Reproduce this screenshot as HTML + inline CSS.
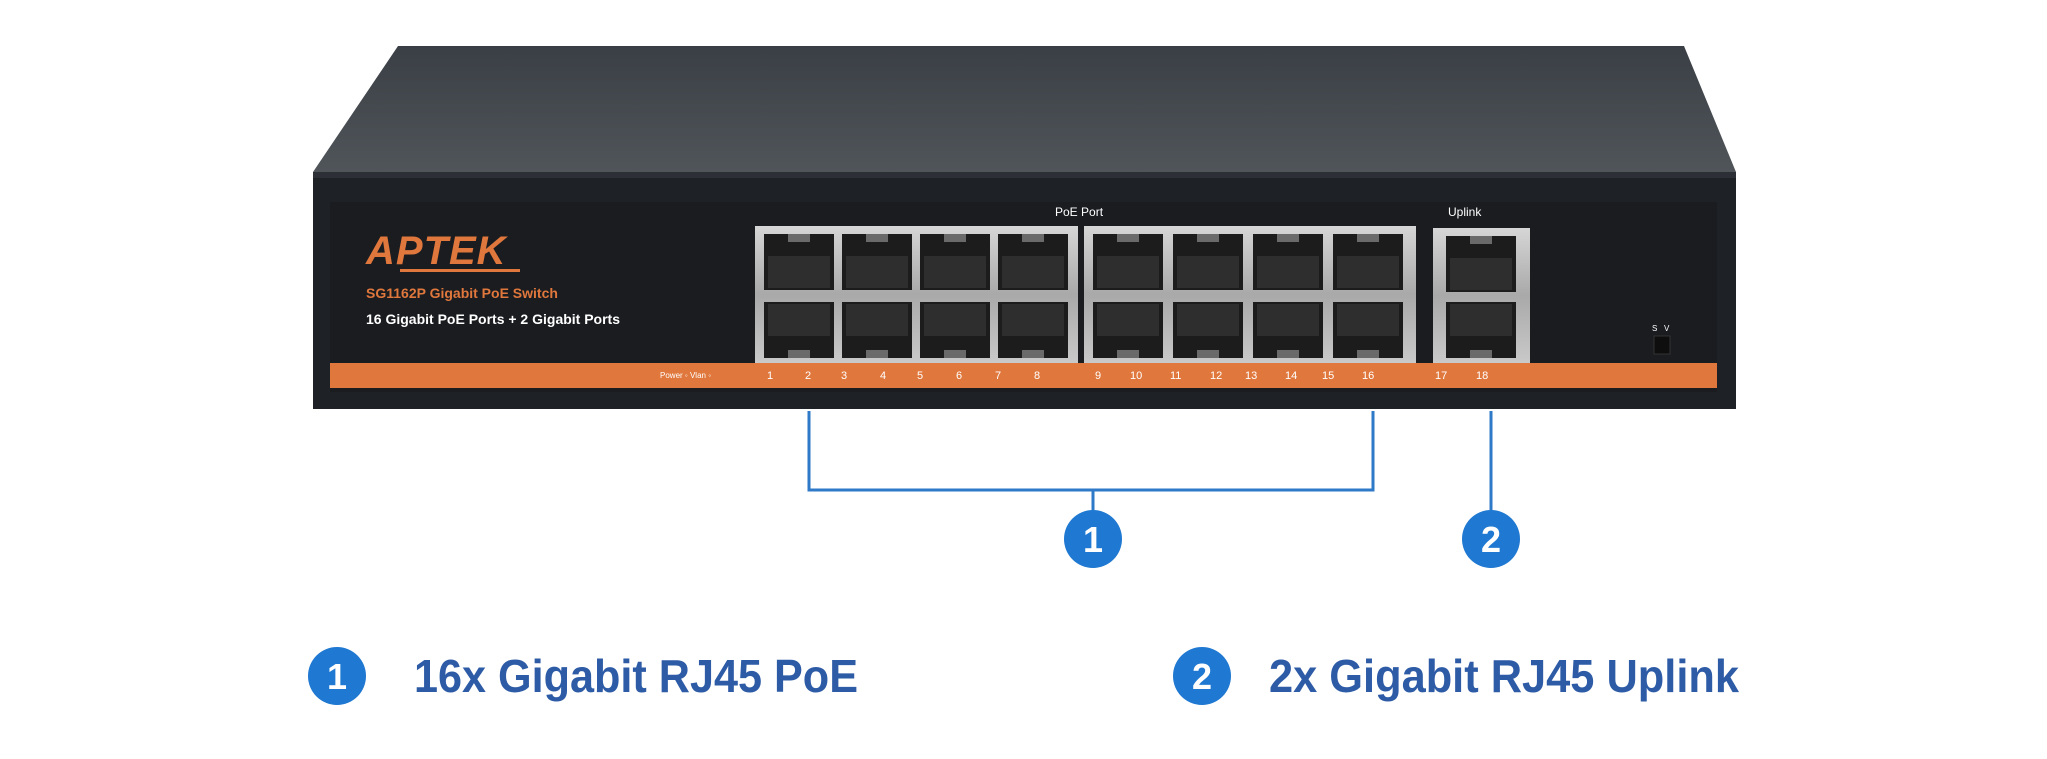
<!DOCTYPE html>
<html><head><meta charset="utf-8"><style>
html,body{margin:0;padding:0;background:#fff;width:2047px;height:759px;overflow:hidden}
svg{display:block}
</style></head><body>
<svg width="2047" height="759" viewBox="0 0 2047 759" xmlns="http://www.w3.org/2000/svg" font-family="Liberation Sans, sans-serif">
<defs>
<linearGradient id="top" x1="0" y1="0" x2="0" y2="1"><stop offset="0" stop-color="#3a3f45"/><stop offset="1" stop-color="#50555a"/></linearGradient>
<linearGradient id="metal" x1="0" y1="0" x2="0" y2="1"><stop offset="0" stop-color="#d6d6d6"/><stop offset="0.5" stop-color="#a9a9a9"/><stop offset="1" stop-color="#c9c9c9"/></linearGradient>
<g id="port"><rect x="0" y="0" width="70" height="56" fill="#1c1c1c"/><rect x="4" y="22" width="62" height="32" fill="#2e2e2e"/><rect x="24" y="0" width="22" height="8" fill="#6a6a6a"/></g>
<g id="portb"><rect x="0" y="0" width="70" height="56" fill="#1c1c1c"/><rect x="4" y="2" width="62" height="32" fill="#2e2e2e"/><rect x="24" y="48" width="22" height="8" fill="#6a6a6a"/></g>
</defs>
<polygon points="398,46 1684,46 1736,172 313,172" fill="url(#top)"/>
<rect x="313" y="172" width="1423" height="237" fill="#1e2125"/>
<rect x="313" y="172" width="1423" height="6" fill="#2c3036"/>
<rect x="330" y="202" width="1387" height="190" fill="#1a1c20"/>
<rect x="330" y="363" width="1387" height="25" fill="#e0773c"/>
<text x="366" y="264" font-size="40" font-weight="bold" font-style="italic" fill="#e0773c" letter-spacing="1">APTEK</text>
<rect x="400" y="269" width="120" height="3" fill="#e0773c"/>
<text x="366" y="298" font-size="14" font-weight="bold" fill="#e0773c">SG1162P Gigabit PoE Switch</text>
<text x="366" y="324" font-size="14" font-weight="bold" fill="#ffffff">16 Gigabit PoE Ports + 2 Gigabit Ports</text>
<text x="1055" y="216" font-size="12" fill="#ffffff">PoE Port</text>
<text x="1448" y="216" font-size="12" fill="#ffffff">Uplink</text>
<text x="1652" y="331" font-size="8" fill="#fff">S&#160;&#160;&#160;V</text>
<rect x="1654" y="336" width="16" height="18" fill="#0e0e0e" stroke="#333"/>
<rect x="755" y="226" width="323" height="137" fill="url(#metal)"/>
<rect x="1084" y="226" width="332" height="137" fill="url(#metal)"/>
<rect x="1433" y="228" width="97" height="135" fill="url(#metal)"/>
<g>
<use href="#port" x="764" y="234"/><use href="#port" x="842" y="234"/><use href="#port" x="920" y="234"/><use href="#port" x="998" y="234"/>
<use href="#port" x="1093" y="234"/><use href="#port" x="1173" y="234"/><use href="#port" x="1253" y="234"/><use href="#port" x="1333" y="234"/>
<use href="#portb" x="764" y="302"/><use href="#portb" x="842" y="302"/><use href="#portb" x="920" y="302"/><use href="#portb" x="998" y="302"/>
<use href="#portb" x="1093" y="302"/><use href="#portb" x="1173" y="302"/><use href="#portb" x="1253" y="302"/><use href="#portb" x="1333" y="302"/>
<use href="#port" x="1446" y="236"/><use href="#portb" x="1446" y="302"/>
</g>
<g font-size="11" fill="#ffffff">
<text x="660" y="378" font-size="8">Power ◦ Vlan ◦</text>
<text x="767" y="379">1</text><text x="805" y="379">2</text><text x="841" y="379">3</text><text x="880" y="379">4</text>
<text x="917" y="379">5</text><text x="956" y="379">6</text><text x="995" y="379">7</text><text x="1034" y="379">8</text>
<text x="1095" y="379">9</text><text x="1130" y="379">10</text><text x="1170" y="379">11</text><text x="1210" y="379">12</text>
<text x="1245" y="379">13</text><text x="1285" y="379">14</text><text x="1322" y="379">15</text><text x="1362" y="379">16</text>
<text x="1435" y="379">17</text><text x="1476" y="379">18</text>
</g>
<g stroke="#2f79c9" stroke-width="3" fill="none">
<polyline points="809,411 809,490 1373,490 1373,411"/>
<line x1="1093" y1="490" x2="1093" y2="512"/>
<line x1="1491" y1="411" x2="1491" y2="512"/>
</g>
<g font-weight="bold" text-anchor="middle" fill="#fff" font-size="36">
<circle cx="1093" cy="539" r="29" fill="#1f78d1"/><text x="1093" y="552">1</text>
<circle cx="1491" cy="539" r="29" fill="#1f78d1"/><text x="1491" y="552">2</text>
<circle cx="337" cy="676" r="29" fill="#1f78d1"/><text x="337" y="689">1</text>
<circle cx="1202" cy="676" r="29" fill="#1f78d1"/><text x="1202" y="689">2</text>
</g>
<g font-weight="bold" fill="#2d5ba6" font-size="46">
<text x="414" y="692" textLength="444" lengthAdjust="spacingAndGlyphs">16x Gigabit RJ45 PoE</text>
<text x="1269" y="692" textLength="470" lengthAdjust="spacingAndGlyphs">2x Gigabit RJ45 Uplink</text>
</g>
</svg>
</body></html>
